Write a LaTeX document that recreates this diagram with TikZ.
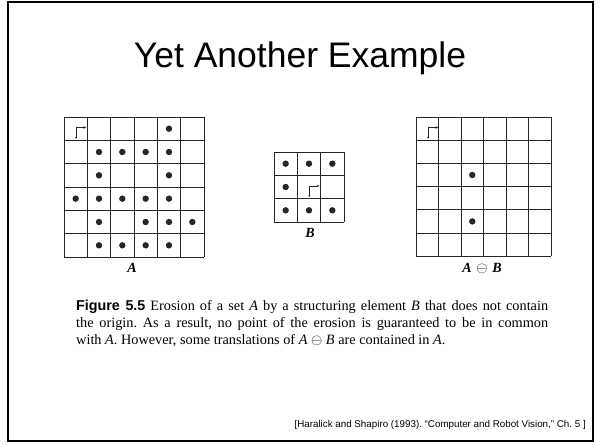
\documentclass[tikz,border=0pt]{standalone}
\usepackage{fontspec}
\setmainfont{Liberation Serif}
\newfontfamily\arial{Liberation Sans}
\usetikzlibrary{arrows.meta}
\frenchspacing
\newcommand\orgmark[2]{%
  \draw[marker] ({#1+12},{#2+20.5}) -- ({#1+12},{#2+10.5}) -- ({#1+22},{#2+10.5});
  \fill[black!85] ({#1+12},{#2+20.5}) circle (1pt);}
\newcommand\mygrid[6]{% x0 y0 n cellw cellh
  \foreach \k in {0,...,#3} {
    \draw[gridline] ({#1+\k*#4},#2) -- ({#1+\k*#4},{#2+#3*#5});
    \draw[gridline] (#1,{#2+\k*#5}) -- ({#1+#3*#4},{#2+\k*#5});
  }}
\begin{document}
\begin{tikzpicture}[x=1pt,y=-1pt,
  gridline/.style={line width=0.9pt, draw=black!85},
  marker/.style={line width=0.6pt, draw=black!85, -{Stealth[length=2.5pt,width=2.5pt]}},
  lbl/.style={font=\fontsize{14}{16}\selectfont\bfseries\itshape, inner sep=0pt}]
\useasboundingbox (0,0) rectangle (596,444);
\draw[line width=2.5pt] (8,2) rectangle (593,441);
\node[font=\arial\fontsize{35.5}{40}\selectfont, anchor=base] (title) at (300,67) {Yet Another Example};
% grid A
\mygrid{64}{117}{6}{23.33}{23.33}{}
\foreach \r/\c in {0/4,1/1,1/2,1/3,1/4,2/1,2/4,3/0,3/1,3/2,3/3,3/4,4/1,4/3,4/4,4/5,5/1,5/2,5/3,5/4}
  \fill[black!85] ({64+23.33*(\c+0.5)},{117+23.33*(\r+0.5)}) circle (3.2pt);
\orgmark{64}{117}
\node[lbl] (la) at (132,268) {A};
% grid B
\mygrid{274}{152}{3}{23.33}{23.33}{}
\foreach \r/\c in {0/0,0/1,0/2,1/0,2/0,2/1,2/2}
  \fill[black!85] ({274+23.33*(\c+0.5)},{152+23.33*(\r+0.5)}) circle (3.2pt);
\orgmark{297.33}{175.33}
\node[lbl] (lb) at (310,233) {B};
% grid A erosion B
\mygrid{416}{117}{6}{22.5}{23.2}{}
\foreach \r/\c in {2/2,4/2}
  \fill[black!85] ({416+22.5*(\c+0.5)},{117+23.2*(\r+0.5)}) circle (3.2pt);
\orgmark{416}{117}
\node[lbl] (lab) at (482,268) {A\,\,$\ominus$\,\,B};
% caption
\node[anchor=north west, text width=472pt, align=justify, inner sep=0pt,
      font=\fontsize{14.3}{16.8}\selectfont] (cap) at (76,300)
  {{\arial\bfseries Figure 5.5} Erosion of a set \textit{A} by a structuring element \textit{B} that does not contain\linebreak the origin. As a result, no point of the erosion is guaranteed to be in common\linebreak with \textit{A}. However, some translations of \textit{A} $\ominus$ \textit{B} are contained in \textit{A}.};
\node[anchor=base east, font=\arial\fontsize{9.8}{12}\selectfont, inner sep=0pt] (cred) at (586,427)
  {[Haralick and Shapiro (1993). “Computer and Robot Vision,” Ch. 5 ]};
\end{tikzpicture}
\end{document}
